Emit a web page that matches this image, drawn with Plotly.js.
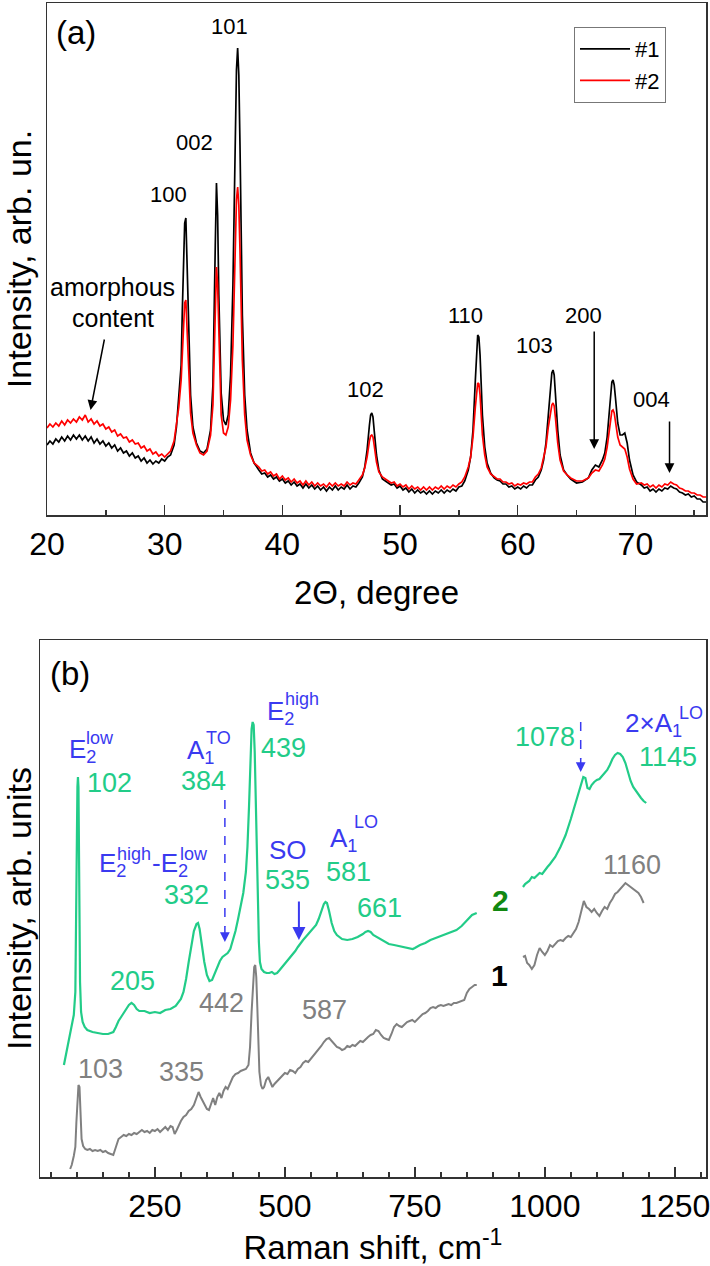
<!DOCTYPE html>
<html><head><meta charset="utf-8">
<script src="https://cdn.plot.ly/plotly-3.0.1.min.js"></script>
<style>html,body{margin:0;padding:0;background:#fff}#plot{width:710px;height:1266px}</style>
</head><body><div id="plot"></div>
<script>
// ---------- (a) XRD data (intensity in arbitrary units) ----------
const xrdAngle = [20,20.25,20.5,20.75,21,21.25,21.5,21.75,22,22.25,22.5,22.75,23,23.25,23.5,23.75,24,24.25,24.5,24.75,25,25.25,25.5,25.75,26,26.25,26.5,26.75,27,27.25,27.5,27.75,28,28.25,28.5,28.75,29,29.25,29.5,29.75,30,30.25,30.5,
30.8,31.0,31.2,31.4,31.5,31.6,31.7,31.8,31.9,32.0,32.2,32.4,32.7,33.0,33.3,33.6,33.9,34.1,34.2,34.3,34.4,34.5,34.6,34.7,34.8,35.0,35.2,35.4,35.6,35.8,35.9,36.0,36.1,36.2,36.3,36.4,36.5,36.6,36.8,37.0,37.3,37.6,
38,38.25,38.5,38.75,39,39.25,39.5,39.75,40,40.25,40.5,40.75,41,41.25,41.5,41.75,42,42.25,42.5,42.75,43,43.25,43.5,43.75,44,44.25,44.5,44.75,45,45.25,45.5,45.75,46,46.25,46.5,
46.8,47.0,47.2,47.4,47.5,47.6,47.7,47.8,48.0,48.2,48.5,
49,49.25,49.5,49.75,50,50.25,50.5,50.75,51,51.25,51.5,51.75,52,52.25,52.5,52.75,53,53.25,53.5,53.75,54,54.25,54.5,54.75,55,55.25,55.5,
55.8,56.0,56.2,56.4,56.5,56.6,56.7,56.8,56.9,57.0,57.2,57.4,57.7,
58,58.25,58.5,58.75,59,59.25,59.5,59.75,60,60.25,60.5,60.75,61,61.25,61.5,61.75,62,
62.2,62.4,62.6,62.8,62.9,63.0,63.1,63.2,63.4,63.6,63.9,
64.2,64.5,65,65.5,66,66.3,66.6,66.9,67.2,
67.4,67.6,67.8,67.9,68.0,68.1,68.2,68.3,68.5,68.7,68.9,69.1,69.3,69.5,69.8,70.1,
70.5,70.75,71,71.25,71.5,71.75,72,72.25,72.5,72.75,73,73.25,73.5,73.75,74,74.25,74.5,74.75,75,75.25,75.5,75.75,76];
const xrdSample1 = [70,74,71,76,73,78,74,79,75,80,76,80,75,79,74,78,72,76,71,74,69,72,67,70,64,67,62,64,59,62,57,59,54,57,52,55,51,54,52,56,54,58,60,
70,88,115,150,205,260,292,297,250,190,120,88,72,64,62,66,85,130,185,270,332,300,220,160,122,95,90,100,140,230,300,380,445,467,440,370,280,200,120,85,62,52,
45,41,42,38,40,36,38,34,36,32,34,30,33,29,31,27,31,27,30,26,29,25,28,24,28,25,29,25,28,26,30,26,29,28,32,
38,48,65,90,100,102,98,85,60,45,36,
32,30,31,27,29,25,27,23,26,22,25,22,24,21,24,21,24,22,25,22,25,23,26,24,28,29,34,
45,58,85,135,165,180,178,160,130,100,68,52,42,
37,35,34,31,31,28,29,26,28,26,29,27,30,30,35,38,45,
55,72,100,132,142,145,140,122,85,60,45,
40,36,32,33,37,45,50,48,55,
62,78,108,125,133,135,130,118,92,80,80,82,72,55,40,33,
30,27,28,24,26,23,26,24,27,26,29,27,26,23,22,20,21,18,19,16,16,13,13];
const xrdSample2 = [87,91,88,92,89,94,90,95,92,96,93,98,95,100,93,96,91,94,89,91,86,88,83,85,79,81,77,78,73,75,71,72,67,69,64,66,61,63,59,61,58,61,64,
74,90,108,135,165,195,212,215,185,148,102,82,70,62,60,64,80,110,150,205,248,230,175,130,100,82,80,88,115,170,220,270,315,328,310,265,205,155,100,75,60,52,
48,44,45,41,43,39,41,36,39,35,37,33,36,32,34,30,34,30,33,29,32,29,31,28,32,29,32,29,31,29,33,30,32,31,35,
40,47,58,74,79,80,78,70,53,43,38,
34,32,33,29,31,28,30,26,29,26,28,25,28,25,28,25,28,26,29,26,29,27,30,28,31,33,38,
48,58,78,108,124,132,131,120,100,80,60,48,41,
38,36,36,33,33,31,32,29,31,30,32,31,33,33,38,41,47,
56,68,88,104,110,112,109,98,72,55,44,
40,37,34,34,37,42,45,44,50,
56,68,88,99,104,105,102,94,78,70,68,66,58,46,36,31,
32,30,31,28,30,27,30,28,31,30,33,31,30,27,26,24,24,22,22,20,20,18,18];
const xrdNames = ['#1','#2'];
const xrdTicks = [20,30,40,50,60,70];

// ---------- (b) Raman data ----------
const ramanShift2 = [75,80,85,90,94,97,99,100,101,102,103,104,105,106,108,111,115,120,130,140,150,160,170,175,180,185,190,195,200,205,210,215,220,230,240,250,260,270,280,290,300,305,310,315,320,325,330,333,336,340,345,350,355,360,365,370,375,380,385,390,395,400,405,410,415,420,425,428,431,434,436,438,440,442,444,446,448,450,452,455,460,465,470,475,480,485,490,495,500,505,510,515,520,525,530,535,540,545,550,555,560,565,570,575,578,581,585,590,595,600,610,620,630,640,650,655,660,665,670,680,690,700,710,720,730,740,746,750,760,770,780,790,800,810,820,830,840,850,860,869,
null,
958,962,970,975,980,985,990,995,1000,1005,1010,1020,1030,1040,1050,1058,1065,1070,1074,1078,1082,1086,1090,1095,1100,1105,1110,1115,1120,1125,1130,1135,1140,1145,1150,1155,1160,1165,1170,1175,1180,1185,1190,1195];
const ramanInt2 = [112,125,140,152,162,185,260,340,390,400,390,330,250,195,165,155,150,147,145,144,143,143,145,150,156,160,164,168,172,174,172,168,166,166,164,165,164,167,168,171,178,185,198,215,232,246,253,254,248,232,215,202,196,197,203,210,216,220,222,224,228,236,246,258,270,284,305,330,370,420,448,455,452,425,380,320,270,235,215,208,205,204,204,205,203,204,207,210,213,216,219,222,226,230,234,237,240,243,246,248,252,258,266,273,275,274,266,254,246,242,238,237,238,240,243,245,246,245,242,239,236,233,232,231,230,229,228,229,232,234,237,239,241,243,245,247,251,257,262,264,
null,
290,293,296,300,299,302,304,303,307,310,313,320,330,342,358,372,385,394,400,399,389,388,392,395,397,398,401,404,407,412,418,422,424,423,420,414,404,396,390,386,382,379,376,374];
const ramanShift1 = [87,90,94,97,99,101,103,105,107,109,112,116,120,125,130,135,140,145,150,155,160,165,170,175,180,185,190,195,200,205,210,215,220,225,230,235,240,245,250,255,260,265,270,275,280,284,288,292,296,300,305,310,315,320,325,330,334,338,342,346,350,354,358,362,366,370,374,378,382,386,390,395,400,405,410,415,420,425,430,433,436,439,441,443,445,447,449,451,454,457,460,464,468,472,476,480,485,490,495,500,505,510,515,520,525,530,535,540,545,550,555,560,565,570,575,580,585,590,595,600,605,610,615,620,625,630,635,640,645,650,655,660,665,670,675,680,685,690,695,700,705,710,715,720,725,730,735,740,745,750,755,760,765,770,775,780,785,790,795,800,805,810,815,820,825,830,835,840,845,850,855,860,865,869,
null,
958,962,966,970,975,980,985,990,995,1000,1005,1010,1015,1020,1025,1030,1035,1040,1045,1050,1055,1060,1065,1070,1075,1080,1085,1090,1095,1100,1105,1110,1115,1120,1125,1130,1135,1140,1145,1150,1155,1160,1165,1170,1175,1180,1185,1190];
const ramanInt1 = [8,12,21,30,55,80,92,90,60,38,31,28,27,28,26,27,26,27,25,26,24,23,22,30,38,40,42,41,43,42,44,43,45,47,45,46,44,47,46,48,45,48,50,47,51,50,43,47,52,56,60,62,66,68,72,80,85,80,76,71,68,67,74,79,72,80,84,79,86,90,88,95,100,103,104,106,107,108,112,130,165,195,210,212,200,170,130,105,92,88,90,97,100,94,90,93,96,98,102,104,103,107,106,104,108,110,114,116,115,118,121,124,127,131,135,138,139,136,132,130,129,127,128,131,130,132,131,134,136,135,138,140,142,143,147,146,142,139,138,137,143,150,153,151,150,153,155,156,157,155,158,161,163,164,166,169,170,169,171,172,171,172,173,172,174,174,175,176,177,184,188,190,192,192,
null,
220,221,214,212,208,212,222,229,225,222,226,232,230,233,236,237,236,239,241,240,244,248,255,266,276,270,268,265,268,264,261,266,270,268,274,278,283,285,288,292,294,292,290,288,286,284,280,274];
const ramanTicks = [250,500,750,1000,1250];

// ---------- styling ----------
const FONT = 'Liberation Sans, Arial, Helvetica, sans-serif';
const GREEN = '#22CC88', BLUE = '#3A3AF0', GRAY = '#808080', DKGREEN = '#118811';
const W = 710, H = 1266;

const traces = [
  {x: xrdAngle, y: xrdSample1, name: xrdNames[0], type: 'scatter', mode: 'lines',
   line: {color: '#000000', width: 1.7}, xaxis: 'x', yaxis: 'y'},
  {x: xrdAngle, y: xrdSample2, name: xrdNames[1], type: 'scatter', mode: 'lines',
   line: {color: '#FF0000', width: 1.7}, xaxis: 'x', yaxis: 'y'},
  {x: ramanShift2, y: ramanInt2, name: '2', type: 'scatter', mode: 'lines', connectgaps: false,
   line: {color: GREEN, width: 2.2}, xaxis: 'x2', yaxis: 'y2', showlegend: false},
  {x: ramanShift1, y: ramanInt1, name: '1', type: 'scatter', mode: 'lines', connectgaps: false,
   line: {color: GRAY, width: 2}, xaxis: 'x2', yaxis: 'y2', showlegend: false}
];

function lab(axis, x, y, text, opts) {
  const o = opts || {};
  return Object.assign({
    xref: axis === 'a' ? 'x' : 'x2', yref: axis === 'a' ? 'y' : 'y2',
    x: x, y: y, text: text, showarrow: false, xanchor: 'center', yanchor: 'middle',
    font: {family: FONT, size: o.size || 22, color: o.color || '#000'}
  }, o.extra || {});
}
function arrow(axis, x, y, ax, ay, color, width) {
  return {
    xref: axis === 'a' ? 'x' : 'x2', yref: axis === 'a' ? 'y' : 'y2',
    axref: axis === 'a' ? 'x' : 'x2', ayref: axis === 'a' ? 'y' : 'y2',
    x: x, y: y, ax: ax, ay: ay, text: '', showarrow: true,
    arrowhead: 2, arrowsize: 1.3, arrowwidth: width || 1.5, arrowcolor: color || '#000'
  };
}
const SUP = 18, MAIN = 26, NUM = 27;
const annotations = [
  // panel (a)
  lab('a', 22.5, 482, '(a)', {size: 33}),
  lab('a', 35.5, 488, '101'),
  lab('a', 32.5, 372, '002'),
  lab('a', 30.3, 320, '100'),
  lab('a', 25.6, 228, 'amorphous', {size: 25}),
  lab('a', 25.6, 197, 'content', {size: 25}),
  lab('a', 47.1, 125, '102'),
  lab('a', 55.6, 199, '110'),
  lab('a', 65.6, 199, '200'),
  lab('a', 61.4, 169, '103'),
  lab('a', 71.4, 115, '004'),
  arrow('a', 23.7, 105, 24.9, 177),
  arrow('a', 66.5, 66, 66.5, 185),
  arrow('a', 72.9, 42, 72.9, 95),
  // panel (b)
  lab('b', 86, 504, '(b)', {size: 33}),
  lab('b', 80.8, 427, 'E<sub>2</sub>', {size: MAIN, color: BLUE, extra: {xanchor: 'left'}}),
  lab('b', 113.5, 439, 'low', {size: SUP, color: BLUE, extra: {xanchor: 'left'}}),
  lab('b', 163.5, 394, '102', {size: NUM, color: GREEN}),
  lab('b', 307.7, 426, 'A<sub>1</sub>', {size: MAIN, color: BLUE, extra: {xanchor: 'left'}}),
  lab('b', 344, 439, 'TO', {size: SUP, color: BLUE, extra: {xanchor: 'left'}}),
  lab('b', 344, 396, '384', {size: NUM, color: GREEN}),
  lab('b', 461.5, 465, 'E<sub>2</sub>', {size: MAIN, color: BLUE, extra: {xanchor: 'left'}}),
  lab('b', 496, 478, 'high', {size: SUP, color: BLUE, extra: {xanchor: 'left'}}),
  lab('b', 498, 429, '439', {size: NUM, color: GREEN}),
  lab('b', 138.5, 313, 'E<sub>2</sub>', {size: MAIN, color: BLUE, extra: {xanchor: 'left'}}),
  lab('b', 173, 323, 'high', {size: SUP, color: BLUE, extra: {xanchor: 'left'}}),
  lab('b', 240.4, 313, '-E<sub>2</sub>', {size: MAIN, color: BLUE, extra: {xanchor: 'left'}}),
  lab('b', 294, 323, 'low', {size: SUP, color: BLUE, extra: {xanchor: 'left'}}),
  lab('b', 311.5, 282, '332', {size: NUM, color: GREEN}),
  lab('b', 505.8, 327, 'SO', {size: MAIN, color: BLUE}),
  lab('b', 505.8, 297, '535', {size: NUM, color: GREEN}),
  lab('b', 582.7, 338, 'A<sub>1</sub>', {size: MAIN, color: BLUE, extra: {xanchor: 'left'}}),
  lab('b', 630, 355, 'LO', {size: SUP, color: BLUE, extra: {xanchor: 'left'}}),
  lab('b', 623, 305, '581', {size: NUM, color: GREEN}),
  lab('b', 682.7, 269, '661', {size: NUM, color: GREEN}),
  lab('b', 207.7, 196, '205', {size: NUM, color: GREEN}),
  lab('b', 1000, 440, '1078', {size: NUM, color: GREEN}),
  lab('b', 1150, 453, '2×A<sub>1</sub>', {size: MAIN, color: BLUE, extra: {xanchor: 'left'}}),
  lab('b', 1255, 464, 'LO', {size: SUP, color: BLUE, extra: {xanchor: 'left'}}),
  lab('b', 1236.5, 420, '1145', {size: NUM, color: GREEN}),
  lab('b', 1167, 312, '1160', {size: NUM, color: GRAY}),
  lab('b', 379, 174, '442', {size: NUM, color: GRAY}),
  lab('b', 577, 167, '587', {size: NUM, color: GRAY}),
  lab('b', 146, 108, '103', {size: NUM, color: GRAY}),
  lab('b', 302, 105, '335', {size: NUM, color: GRAY}),
  lab('b', 915, 277, '<b>2</b>', {size: 30, color: DKGREEN}),
  lab('b', 913, 202, '<b>1</b>', {size: 30, color: '#000'}),
  arrow('b', 384.6, 235, 384.6, 252, BLUE, 1.5),
  arrow('b', 527, 237, 527, 277, BLUE, 2),
  arrow('b', 1069, 405, 1069, 420, BLUE, 1.5)
];
const shapes = [
  {type: 'line', xref: 'x2', yref: 'y2', x0: 384.6, x1: 384.6, y0: 377, y1: 250,
   line: {color: BLUE, width: 1.5, dash: 'dash'}},
  {type: 'line', xref: 'x2', yref: 'y2', x0: 1069, x1: 1069, y0: 455, y1: 418,
   line: {color: BLUE, width: 1.5, dash: 'dash'}}
];

const axBase = {showline: true, linecolor: '#333', linewidth: 1.5, mirror: true,
  showgrid: false, zeroline: false, ticklabeloverflow: 'allow'};
const layout = {
  width: W, height: H, margin: {l: 0, r: 0, t: 0, b: 0},
  paper_bgcolor: '#fff', plot_bgcolor: '#fff',
  font: {family: FONT, color: '#000'},
  showlegend: true,
  legend: {x: 574 / W, y: 1 - 27 / H, xanchor: 'left', yanchor: 'top',
    bordercolor: '#777', borderwidth: 1, bgcolor: '#fff', font: {size: 22, family: FONT},
    tracegroupgap: 0, itemwidth: 50},
  xaxis: Object.assign({}, axBase, {domain: [47 / W, 706 / W], anchor: 'y', range: [20, 76],
    tickmode: 'array', tickvals: xrdTicks, ticktext: xrdTicks.map(String),
    ticks: 'inside', ticklen: 10, tickwidth: 1.5, tickcolor: '#333',
    minor: {tickmode: 'linear', tick0: 20, dtick: 5, ticks: 'inside', ticklen: 5, tickwidth: 1.5, tickcolor: '#333'},
    tickfont: {size: 32, family: FONT},
    title: {text: '2Θ, degree', font: {size: 33, family: FONT}, standoff: 20}}),
  yaxis: Object.assign({}, axBase, {domain: [(H - 515) / H, (H - 3) / H], anchor: 'x', range: [0, 512],
    showticklabels: false, ticks: '',
    title: {text: 'Intensity, arb. un.', font: {size: 34, family: FONT}, standoff: 6}}),
  xaxis2: Object.assign({}, axBase, {domain: [40 / W, 706 / W], anchor: 'y2', range: [29, 1310],
    tickmode: 'array', tickvals: ramanTicks, ticktext: ramanTicks.map(String),
    ticks: 'inside', ticklen: 10, tickwidth: 1.5, tickcolor: '#333',
    minor: {tickmode: 'linear', tick0: 0, dtick: 50, ticks: 'inside', ticklen: 5, tickwidth: 1.5, tickcolor: '#333'},
    tickfont: {size: 32, family: FONT},
    title: {text: 'Raman shift, cm<sup>-1</sup>', font: {size: 33, family: FONT}, standoff: 6}}),
  yaxis2: Object.assign({}, axBase, {domain: [(H - 1177) / H, (H - 640) / H], anchor: 'x2', range: [0, 537],
    showticklabels: false, ticks: '',
    title: {text: 'Intensity, arb. units', font: {size: 34, family: FONT}, standoff: 6}}),
  annotations: annotations,
  shapes: shapes
};
Plotly.newPlot('plot', traces, layout, {staticPlot: true, displayModeBar: false});
</script>
</body></html>
